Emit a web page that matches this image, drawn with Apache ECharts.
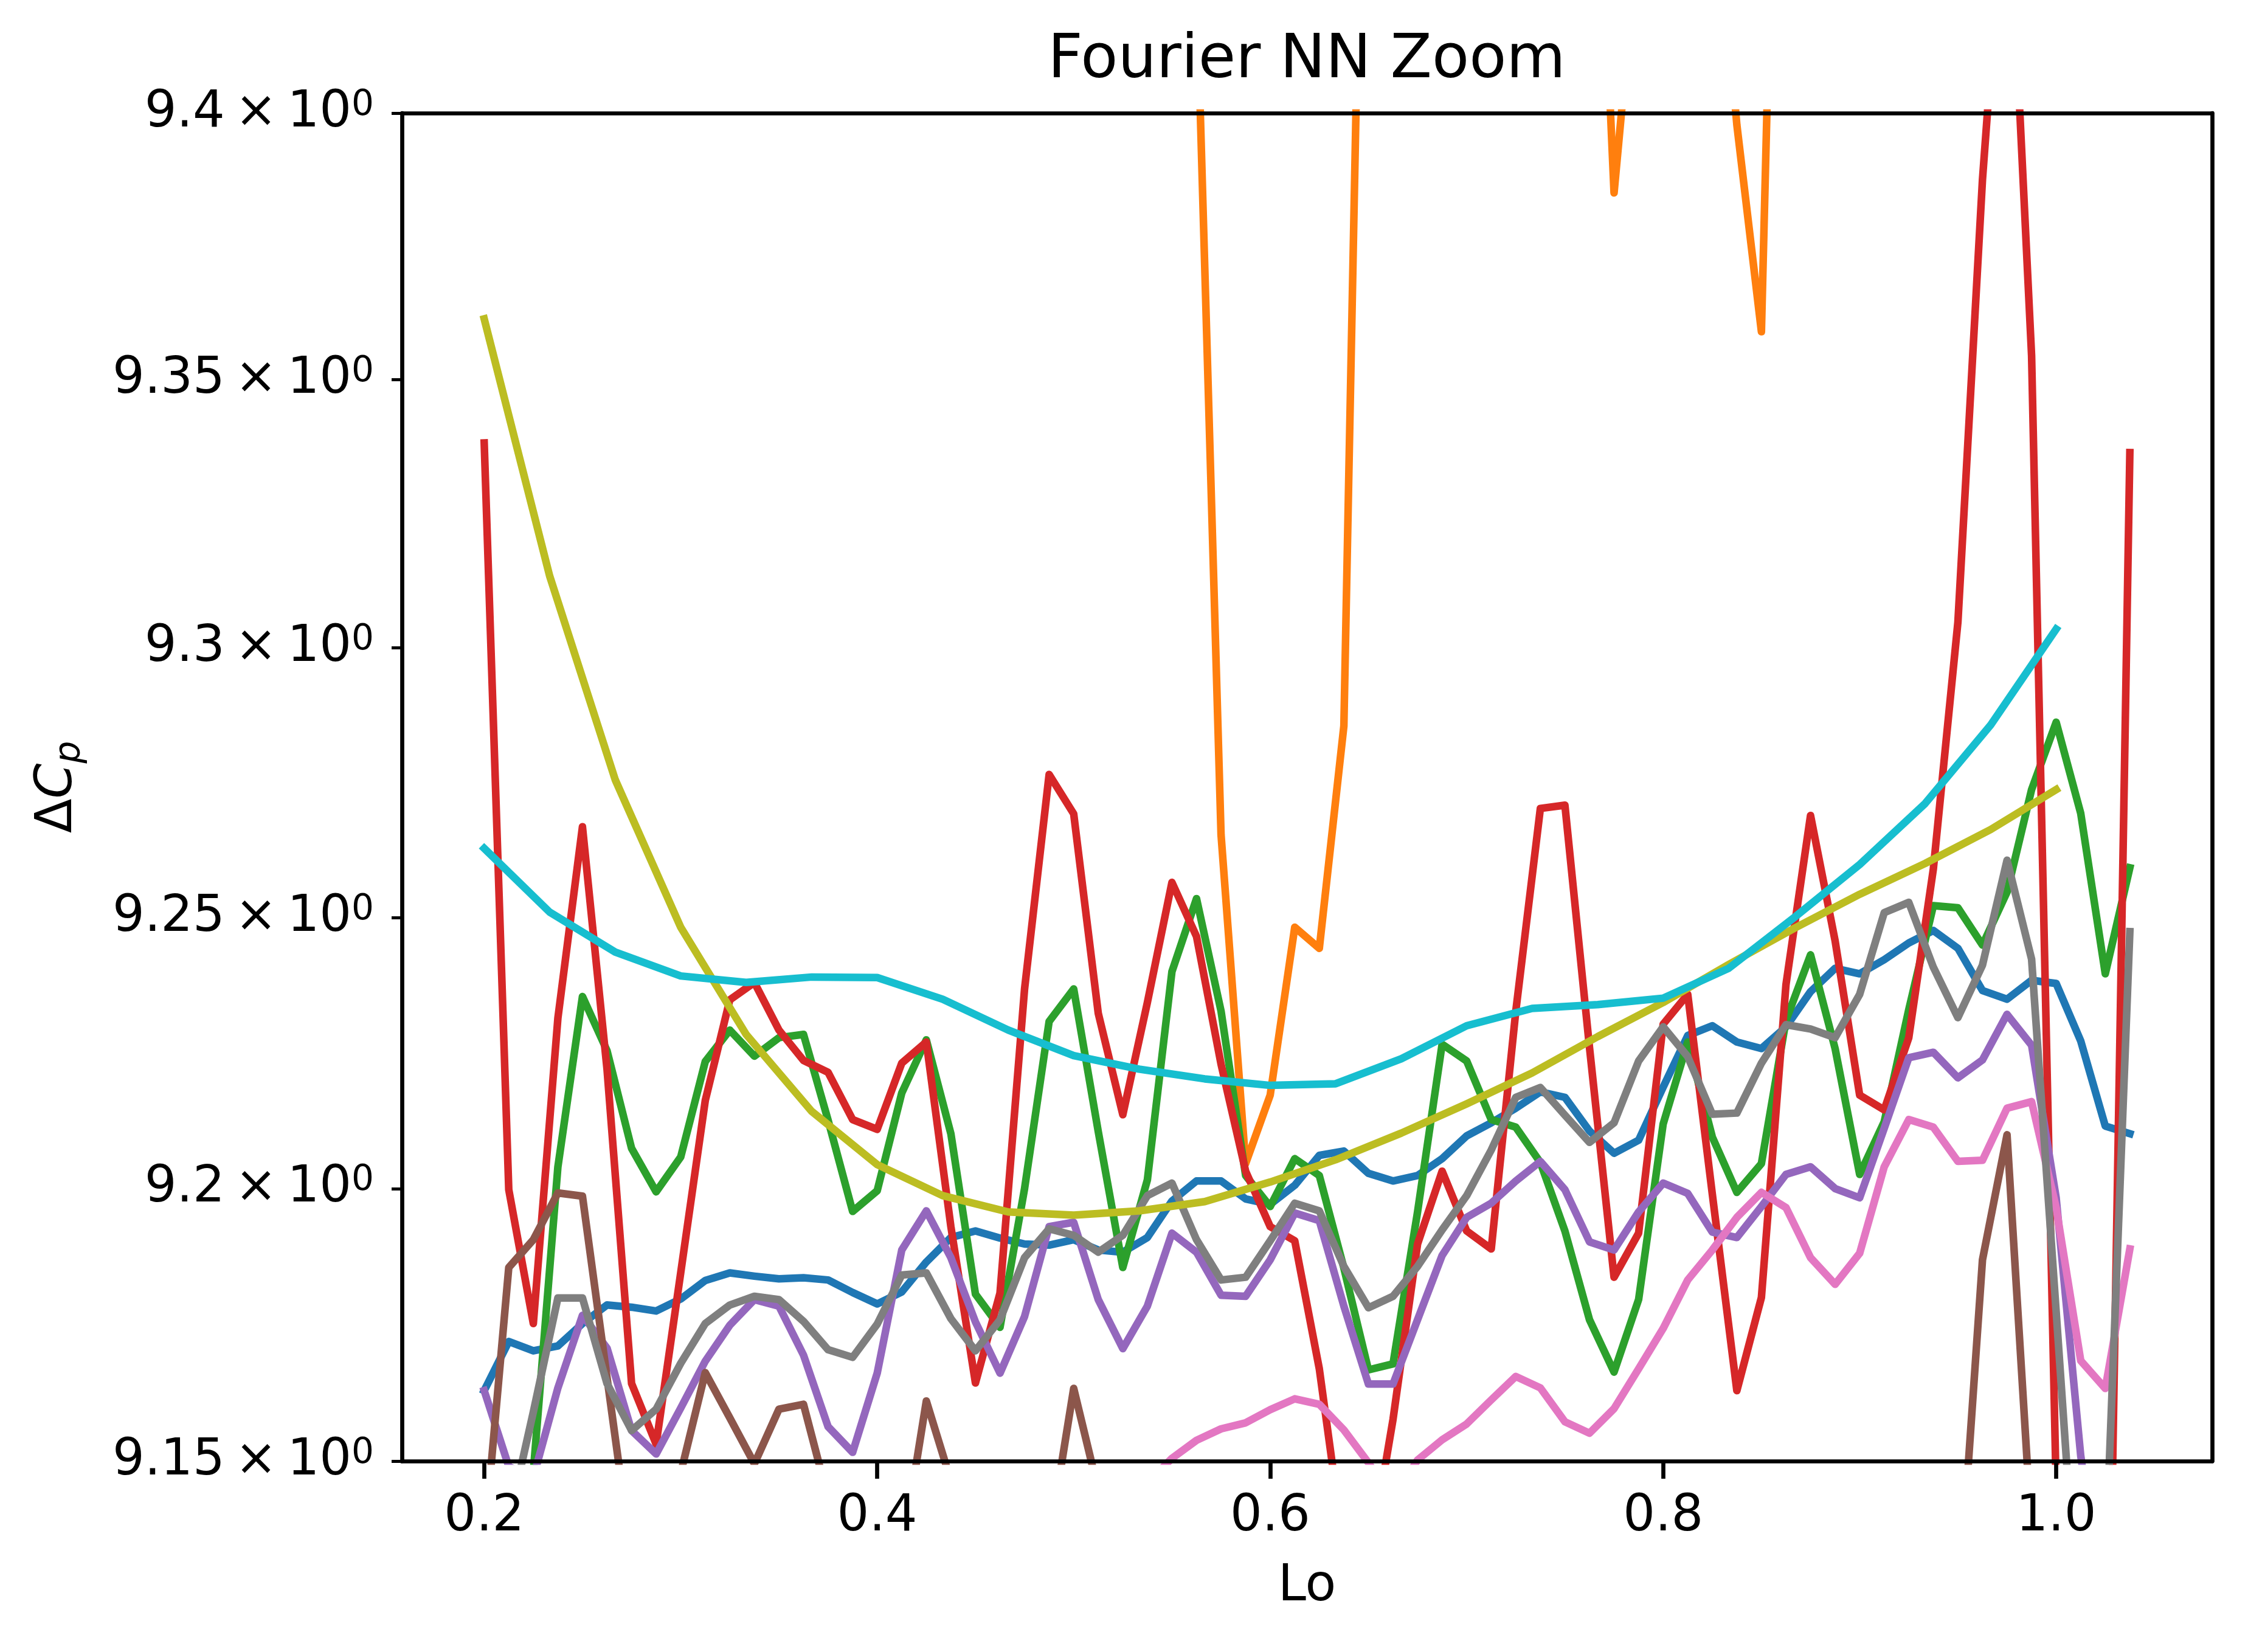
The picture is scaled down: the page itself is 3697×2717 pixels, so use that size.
<!DOCTYPE html>
<html>
<head>
<meta charset="utf-8">
<script src="https://cdn.jsdelivr.net/npm/echarts@6/dist/echarts.min.js"></script>
<style>
html,body{margin:0;padding:0;background:#ffffff;}
#c{width:3697px;height:2717px;}
</style>
</head>
<body>
<div id="c"></div>
<script>
// ---------- data ----------
const lo = [0.2, 0.2125, 0.225, 0.2375, 0.25, 0.2625, 0.275, 0.2875, 0.3, 0.3125,
  0.325, 0.3375, 0.35, 0.3625, 0.375, 0.3875, 0.4, 0.4125, 0.425, 0.4375,
  0.45, 0.4625, 0.475, 0.4875, 0.5, 0.5125, 0.525, 0.5375, 0.55, 0.5625,
  0.575, 0.5875, 0.6, 0.6125, 0.625, 0.6375, 0.65, 0.6625, 0.675, 0.6875,
  0.7, 0.7125, 0.725, 0.7375, 0.75, 0.7625, 0.775, 0.7875, 0.8, 0.8125,
  0.825, 0.8375, 0.85, 0.8625, 0.875, 0.8875, 0.9, 0.9125, 0.925, 0.9375,
  0.95, 0.9625, 0.975, 0.9875, 1.0, 1.0125, 1.025, 1.0375];

const loCoarse = [0.2, 0.2333, 0.2667, 0.3, 0.3333, 0.3667, 0.4, 0.4333, 0.4667, 0.5,
  0.5333, 0.5667, 0.6, 0.6333, 0.6667, 0.7, 0.7333, 0.7667, 0.8, 0.8333,
  0.8667, 0.9, 0.9333, 0.9667, 1.0];

const blueVals = [9.1629, 9.1719, 9.1702, 9.1711, 9.1752, 9.1786, 9.1782, 9.1775, 9.1797, 9.1831,
  9.1845, 9.1839, 9.1834, 9.1836, 9.1832, 9.1809, 9.1788, 9.1810, 9.1865, 9.1910,
  9.1922, 9.1909, 9.1898, 9.1896, 9.1906, 9.1887, 9.1883, 9.1910, 9.1977, 9.2014,
  9.2014, 9.1981, 9.1971, 9.2006, 9.2061, 9.2069, 9.2028, 9.2014, 9.2024, 9.2055,
  9.2097, 9.2121, 9.2148, 9.2178, 9.2168, 9.2106, 9.2065, 9.2089, 9.2187, 9.2282,
  9.2300, 9.2270, 9.2258, 9.2298, 9.2363, 9.2406, 9.2396, 9.2422, 9.2453, 9.2476,
  9.2443, 9.2365, 9.2349, 9.2384, 9.2378, 9.2272, 9.2115, 9.2101];

const orangeVals = [9.62, 9.71, 9.58, 9.66, 9.74, 9.60, 9.55, 9.69, 9.63, 9.57,
  9.68, 9.61, 9.52, 9.66, 9.59, 9.70, 9.64, 9.56, 9.60, 9.67,
  9.58, 9.53, 9.62, 9.65, 9.57, 9.50, 9.61, 9.55, 9.48, 9.425,
  9.2653, 9.2046, 9.2172, 9.2482, 9.2443, 9.2855, 9.52, 9.60, 9.66, 9.58,
  9.63, 9.55, 9.61, 9.57, 9.52, 9.49, 9.385, 9.435, 9.53, 9.50,
  9.45, 9.3978, 9.359, 9.545, 9.60, 9.64, 9.58, 9.62, 9.55, 9.59,
  9.66, 9.61, 9.57, 9.63, 9.60, 9.54, 9.58, 9.62];

const greenVals = [9.120, 9.130, 9.148, 9.2040, 9.2354, 9.2254, 9.2074, 9.1994, 9.2058, 9.2234,
  9.2292, 9.2244, 9.2278, 9.2284, 9.2126, 9.1958, 9.1996, 9.2176, 9.2274, 9.2101,
  9.1806, 9.1745, 9.2000, 9.2308, 9.2368, 9.2105, 9.1855, 9.2016, 9.2400, 9.2535,
  9.2327, 9.2024, 9.1967, 9.2055, 9.2024, 9.1854, 9.1667, 9.1678, 9.1957, 9.2266,
  9.2235, 9.2127, 9.2113, 9.2048, 9.1922, 9.1759, 9.1663, 9.1796, 9.2119, 9.2270,
  9.2095, 9.1993, 9.2046, 9.2310, 9.2431, 9.2258, 9.2026, 9.2123, 9.2330, 9.2522,
  9.2518, 9.2449, 9.2547, 9.2737, 9.2862, 9.2693, 9.2396, 9.2592];

const redVals = [9.3382, 9.1998, 9.1752, 9.2314, 9.2668, 9.2220, 9.1642, 9.1531, 9.1845, 9.2162,
  9.2348, 9.2380, 9.2292, 9.2236, 9.2214, 9.2127, 9.2109, 9.2231, 9.2270, 9.1930,
  9.1643, 9.1808, 9.2368, 9.2765, 9.2692, 9.2323, 9.2136, 9.2343, 9.2565, 9.2465,
  9.2229, 9.2032, 9.1930, 9.1904, 9.1669, 9.1340, 9.1310, 9.1576, 9.1898, 9.2032,
  9.1922, 9.1889, 9.2327, 9.2702, 9.2708, 9.2260, 9.1837, 9.1918, 9.2303, 9.2358,
  9.1990, 9.1629, 9.1800, 9.2376, 9.2689, 9.2457, 9.2172, 9.2145, 9.2278, 9.2590,
  9.3048, 9.3875, 9.4500, 9.3545, 9.1450, 9.0800, 9.0700, 9.3364];

const purpleVals = [9.1629, 9.1490, 9.1470, 9.1634, 9.1767, 9.1707, 9.1556, 9.1513, 9.1597, 9.1683,
  9.1749, 9.1796, 9.1784, 9.1694, 9.1563, 9.1516, 9.1661, 9.1887, 9.1959, 9.1873,
  9.1755, 9.1661, 9.1765, 9.1930, 9.1938, 9.1796, 9.1706, 9.1784, 9.1918, 9.1883,
  9.1804, 9.1802, 9.1869, 9.1955, 9.1941, 9.1784, 9.1641, 9.1641, 9.1759, 9.1877,
  9.1947, 9.1973, 9.2014, 9.2050, 9.1998, 9.1902, 9.1887, 9.1957, 9.2010, 9.1991,
  9.1920, 9.1910, 9.1967, 9.2026, 9.2040, 9.2000, 9.1983, 9.2111, 9.2241, 9.2251,
  9.2204, 9.2237, 9.2321, 9.2264, 9.1983, 9.1510, 9.1200, 9.1100];

const brownVals = [9.1350, 9.1855, 9.1906, 9.1992, 9.1986, 9.1653, 9.1324, 9.1300, 9.1478, 9.1662,
  9.1579, 9.1495, 9.1595, 9.1604, 9.1432, 9.1350, 9.1300, 9.1330, 9.1610, 9.1464,
  9.1350, 9.1300, 9.1280, 9.1354, 9.1633, 9.1447, 9.1300, 9.1250, 9.1200, 9.1220,
  9.1180, 9.1150, 9.1200, 9.1170, 9.1130, 9.1100, 9.1150, 9.1120, 9.1080, 9.1100,
  9.1150, 9.1180, 9.1130, 9.1100, 9.1140, 9.1170, 9.1120, 9.1090, 9.1130, 9.1160,
  9.1120, 9.1100, 9.1140, 9.1180, 9.1150, 9.1110, 9.1130, 9.1170, 9.1140, 9.1150,
  9.1220, 9.1869, 9.2099, 9.1366, 9.1200, 9.1100, 9.1150, 9.1200];

const pinkVals = [9.1200, 9.1250, 9.1180, 9.1220, 9.1270, 9.1230, 9.1190, 9.1240, 9.1280, 9.1250,
  9.1210, 9.1260, 9.1300, 9.1270, 9.1230, 9.1280, 9.1320, 9.1290, 9.1340, 9.1310,
  9.1350, 9.1330, 9.1380, 9.1360, 9.1400, 9.1380, 9.1420, 9.1460, 9.1505, 9.1538,
  9.1559, 9.1570, 9.1594, 9.1614, 9.1604, 9.1557, 9.1497, 9.1430, 9.1502, 9.1539,
  9.1568, 9.1612, 9.1655, 9.1634, 9.1572, 9.1551, 9.1596, 9.1669, 9.1743, 9.1832,
  9.1887, 9.1947, 9.1993, 9.1965, 9.1873, 9.1824, 9.1881, 9.2040, 9.2127, 9.2113,
  9.2050, 9.2052, 9.2148, 9.2160, 9.1965, 9.1684, 9.1633, 9.1889];

const grayVals = [9.1300, 9.1390, 9.1590, 9.1799, 9.1799, 9.1642, 9.1556, 9.1595, 9.1679, 9.1752,
  9.1786, 9.1802, 9.1796, 9.1756, 9.1704, 9.1690, 9.1751, 9.1841, 9.1845, 9.1761,
  9.1702, 9.1759, 9.1873, 9.1926, 9.1914, 9.1883, 9.1914, 9.1987, 9.2010, 9.1906,
  9.1832, 9.1837, 9.1904, 9.1973, 9.1959, 9.1857, 9.1781, 9.1802, 9.1857, 9.1924,
  9.1987, 9.2071, 9.2168, 9.2186, 9.2135, 9.2085, 9.2121, 9.2235, 9.2298, 9.2243,
  9.2137, 9.2139, 9.2231, 9.2302, 9.2294, 9.2278, 9.2358, 9.2509, 9.2528, 9.2408,
  9.2315, 9.2412, 9.2606, 9.2423, 9.1774, 9.1125, 9.1307, 9.2474];

const oliveVals = [9.3614, 9.3134, 9.2755, 9.2482, 9.2284, 9.2142, 9.2044, 9.1987, 9.1957, 9.1951,
  9.1959, 9.1976, 9.2012, 9.2053, 9.2102, 9.2156, 9.2213, 9.2280, 9.2343, 9.2413,
  9.2480, 9.2543, 9.2600, 9.2663, 9.2737];

const cyanVals = [9.2628, 9.2510, 9.2436, 9.2392, 9.2380, 9.2390, 9.2389, 9.2349, 9.2292, 9.2245,
  9.2220, 9.2202, 9.2190, 9.2193, 9.2239, 9.2300, 9.2332, 9.2339, 9.2351, 9.2406,
  9.2500, 9.2598, 9.2711, 9.2857, 9.3035];

const xTicks = [0.2, 0.4, 0.6, 0.8, 1.0];
const xTickLabels = ['0.2', '0.4', '0.6', '0.8', '1.0'];
const yTicks = [9.15, 9.2, 9.25, 9.3, 9.35, 9.4];
const yTickLabels = ['9.15', '9.2', '9.25', '9.3', '9.35', '9.4'];

// ---------- chart ----------
const FONT = 'DejaVu Sans';
const palette = ['#1f77b4', '#ff7f0e', '#2ca02c', '#d62728', '#9467bd',
                 '#8c564b', '#e377c2', '#7f7f7f', '#bcbd22', '#17becf'];
const allVals = [blueVals, orangeVals, greenVals, redVals, purpleVals,
                 brownVals, pinkVals, grayVals, oliveVals, cyanVals];
const allX = [lo, lo, lo, lo, lo, lo, lo, lo, loCoarse, loCoarse];

function nearestLabel(v, ticks, labels) {
  let best = 0, bd = Infinity;
  for (let i = 0; i < ticks.length; i++) {
    const d = Math.abs(ticks[i] - v);
    if (d < bd) { bd = d; best = i; }
  }
  return labels[best];
}

const series = allVals.map((vals, k) => ({
  type: 'line',
  data: vals.map((v, i) => [allX[k][i], v]),
  showSymbol: false,
  symbol: 'none',
  clip: true,
  animation: false,
  lineStyle: { width: 12.5, color: palette[k], join: 'round', cap: 'square' },
  itemStyle: { color: palette[k] },
  emphasis: { disabled: true }
}));

const axisLineStyle = { color: '#000', width: 6.7 };

const option = {
  animation: false,
  backgroundColor: '#ffffff',
  title: {
    text: 'Fourier NN Zoom',
    left: 2149,
    top: 51,
    textAlign: 'center',
    padding: 0,
    textStyle: { fontFamily: FONT, fontSize: 100, fontWeight: 'normal', color: '#000', lineHeight: 100 }
  },
  grid: { left: 661, right: 59, top: 186, bottom: 314, containLabel: false, outerBoundsMode: 'none' },
  xAxis: [{
    type: 'value',
    min: 0.158125,
    max: 1.079375,
    position: 'bottom',
    name: 'Lo',
    nameLocation: 'middle',
    nameGap: 166,
    nameMoveOverlap: false,
    nameTextStyle: { fontFamily: FONT, fontSize: 83, color: '#000', lineHeight: 83 },
    axisLine: { show: true, onZero: false, lineStyle: axisLineStyle },
    axisTick: { show: true, inside: false, length: 29, customValues: xTicks,
                lineStyle: { color: '#000', width: 6.7 } },
    axisLabel: { show: true, margin: 51, customValues: xTicks,
                 formatter: (v) => nearestLabel(v, xTicks, xTickLabels),
                 fontFamily: FONT, fontSize: 83, color: '#000', lineHeight: 83 },
    splitLine: { show: false },
    z: 10
  }, {
    type: 'value',
    min: 0.158125,
    max: 1.079375,
    position: 'top',
    axisLine: { show: true, onZero: false, lineStyle: axisLineStyle },
    axisTick: { show: false },
    axisLabel: { show: false },
    splitLine: { show: false },
    z: 10
  }],
  yAxis: [{
    type: 'log',
    logBase: 10,
    min: 9.15,
    max: 9.4,
    position: 'left',
    name: '{d|Δ}{c|C}{p|p}',
    nameLocation: 'middle',
    nameGap: 516,
    nameMoveOverlap: false,
    nameTextStyle: {
      fontFamily: FONT, color: '#000', fontSize: 83, lineHeight: 100,
      rich: {
        d: { fontFamily: FONT, fontSize: 83, lineHeight: 100, color: '#000' },
        c: { fontFamily: FONT, fontSize: 83, lineHeight: 100, fontStyle: 'italic', color: '#000' },
        p: { fontFamily: FONT, fontSize: 58, lineHeight: 30, fontStyle: 'italic', verticalAlign: 'bottom', color: '#000' }
      }
    },
    axisLine: { show: true, onZero: false, lineStyle: axisLineStyle },
    axisTick: { show: true, inside: false, length: 17, customValues: yTicks,
                lineStyle: { color: '#000', width: 5 } },
    axisLabel: { show: true, margin: 46, customValues: yTicks, showMinLabel: true, showMaxLabel: true,
                 formatter: (v) => '{b|' + nearestLabel(v, yTicks, yTickLabels) + '\u2009\u00d7\u200910}{s|0}',
                 fontFamily: FONT, fontSize: 83, color: '#000', lineHeight: 83,
                 rich: {
                   b: { fontFamily: FONT, fontSize: 83, lineHeight: 83, color: '#000' },
                   s: { fontFamily: FONT, fontSize: 58, lineHeight: 44, verticalAlign: 'top', color: '#000' }
                 } },
    minorTick: { show: false },
    splitLine: { show: false },
    z: 10
  }, {
    type: 'value',
    min: 0,
    max: 1,
    position: 'right',
    axisLine: { show: true, onZero: false, lineStyle: axisLineStyle },
    axisTick: { show: false },
    axisLabel: { show: false },
    splitLine: { show: false },
    z: 10
  }],
  series: series
};

const chart = echarts.init(document.getElementById('c'), null, { renderer: 'canvas', width: 3697, height: 2717 });
chart.setOption(option);
</script>
</body>
</html>
